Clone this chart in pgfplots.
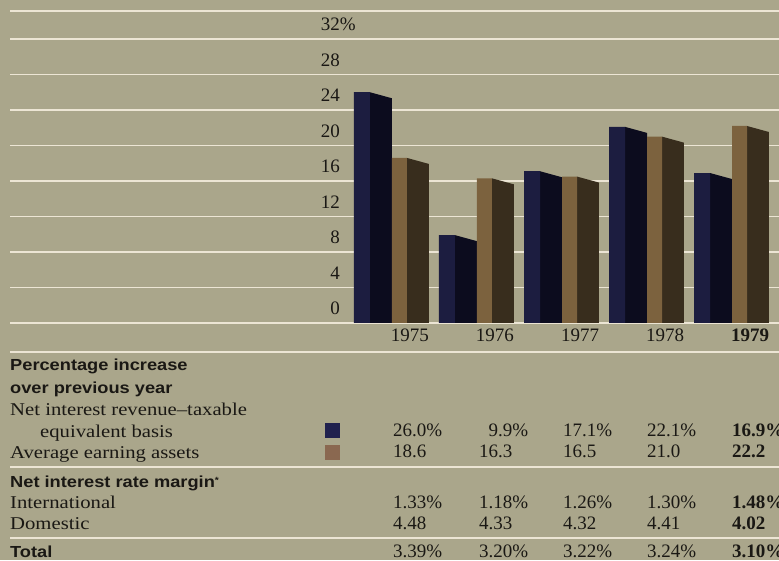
\documentclass[border=0pt]{standalone}
\usepackage{pgfplots}
\pgfplotsset{compat=1.18}
\usepackage{pgfplotstable}
\usepackage{fontspec}
\setmainfont{Liberation Serif}
\newfontfamily\lblfont{Liberation Serif}[FakeStretch=1.15, Ligatures=TeX]
\newfontfamily\hdfont{Liberation Sans}[FakeStretch=1.14]
\definecolor{bg}{RGB}{170,166,139}
\definecolor{gridcol}{RGB}{236,229,212}
\definecolor{bluefront}{RGB}{28,29,64}
\definecolor{blueside}{RGB}{12,12,30}
\definecolor{brownfront}{RGB}{124,98,62}
\definecolor{brownside}{RGB}{56,45,29}
\definecolor{legblue}{RGB}{32,33,78}
\definecolor{legbrown}{RGB}{138,104,80}
\definecolor{ink}{RGB}{26,24,20}
\newcommand{\numf}{\fontsize{19pt}{21pt}\selectfont\color{ink}}
\newcommand{\lblf}{\lblfont\fontsize{18pt}{21pt}\selectfont\color{ink}}
\newcommand{\hdf}{\hdfont\bfseries\fontsize{16pt}{21pt}\selectfont\color{ink}}

\pgfplotstableread{
yr rev assets
0 26.0 18.6
1 9.9 16.3
2 17.1 16.5
3 22.1 21.0
4 16.9 22.2
}\growth

\begin{document}
\begin{tikzpicture}[x=1pt,y=1pt]
\path[use as bounding box] (0,0) rectangle (779,560);
\clip (0,0) rectangle (779,560);
\fill[bg] (0,0) rectangle (779,560);

\begin{axis}[
  at={(10pt,237pt)}, anchor=south west,
  x=85pt, y=8.875pt,
  xmin=-4.494, xmax=4.553, ymin=0, ymax=35.2,
  axis line style={draw=none},
  major tick length=0pt,
  ytick={0,4,8,12,16,20,24,28,32,35.15},
  yticklabels={0,4,8,12,16,20,24,28,{32\rlap{\%}},{}},
  yticklabel style={anchor=base east, xshift=330pt, yshift=8pt, inner sep=0pt, font=\numf},
  ymajorgrids, grid style={gridcol, line width=1.8pt},
  xtick={0,1,2,3,4},
  xticklabels={1975,1976,1977,1978,\textbf{1979}},
  xticklabel style={anchor=base, xshift=18pt, yshift=-19pt, inner sep=0pt, font=\numf},
  clip=false,
]
% side faces (perspective)
\addplot[fill=blueside, draw=none] coordinates {(-0.259,0) (-0.259,26.0) (0,25.32) (0,0)};
\addplot[fill=blueside, draw=none] coordinates {(0.741,0) (0.741,9.9) (1,9.22) (1,0)};
\addplot[fill=blueside, draw=none] coordinates {(1.741,0) (1.741,17.1) (2,16.42) (2,0)};
\addplot[fill=blueside, draw=none] coordinates {(2.741,0) (2.741,22.1) (3,21.42) (3,0)};
\addplot[fill=blueside, draw=none] coordinates {(3.741,0) (3.741,16.9) (4,16.22) (4,0)};
\addplot[fill=brownside, draw=none] coordinates {(0.176,0) (0.176,18.6) (0.435,17.92) (0.435,0)};
\addplot[fill=brownside, draw=none] coordinates {(1.176,0) (1.176,16.3) (1.435,15.62) (1.435,0)};
\addplot[fill=brownside, draw=none] coordinates {(2.176,0) (2.176,16.5) (2.435,15.82) (2.435,0)};
\addplot[fill=brownside, draw=none] coordinates {(3.176,0) (3.176,21.0) (3.435,20.32) (3.435,0)};
\addplot[fill=brownside, draw=none] coordinates {(4.176,0) (4.176,22.2) (4.435,21.52) (4.435,0)};
% front faces
\addplot[ybar, bar width=16pt, bar shift=-30pt, fill=bluefront, draw=none] table[x=yr, y=rev] {\growth};
\addplot[ybar, bar width=15pt, bar shift=7.5pt, fill=brownfront, draw=none] table[x=yr, y=assets] {\growth};
\end{axis}

% separator rules
\draw[gridcol, line width=1.8pt] (10,208) -- (779,208);
\draw[gridcol, line width=1.8pt] (10,93) -- (779,93);
\draw[gridcol, line width=1.8pt] (10,22) -- (779,22);

% row labels
\node[anchor=base west, inner sep=0pt] at (10,189) {\hdf Percentage increase};
\node[anchor=base west, inner sep=0pt] at (10,167) {\hdf over previous year};
\node[anchor=base west, inner sep=0pt] at (10,144) {\lblf Net interest revenue–taxable};
\node[anchor=base west, inner sep=0pt] at (40,123) {\lblf equivalent basis};
\node[anchor=base west, inner sep=0pt] at (10,102) {\lblf Average earning assets};
\node[anchor=base west, inner sep=0pt] at (10,73) {\hdf Net interest rate margin\raisebox{4pt}{\fontsize{9pt}{9pt}\selectfont*}};
\node[anchor=base west, inner sep=0pt] at (10,52) {\lblf International};
\node[anchor=base west, inner sep=0pt] at (10,31) {\lblf Domestic};
\node[anchor=base west, inner sep=0pt] at (10,3) {\hdf Total};

% legend keys
\fill[legblue] (325,122) rectangle (340,137);
\fill[legbrown] (325,100) rectangle (340,115);

% table values
\foreach \xx/\a/\b/\c/\d/\e in {393/26.0\%/18.6/1.33\%/4.48/3.39\%, 479/\hphantom{1}9.9\%/16.3/1.18\%/4.33/3.20\%, 563/17.1\%/16.5/1.26\%/4.32/3.22\%, 647/22.1\%/21.0/1.30\%/4.41/3.24\%}{
  \node[anchor=base west, inner sep=0pt] at (\xx,124) {\numf \a};
  \node[anchor=base west, inner sep=0pt] at (\xx,103) {\numf \b};
  \node[anchor=base west, inner sep=0pt] at (\xx,52) {\numf \c};
  \node[anchor=base west, inner sep=0pt] at (\xx,31) {\numf \d};
  \node[anchor=base west, inner sep=0pt] at (\xx,3) {\numf \e};
}
\node[anchor=base west, inner sep=0pt] at (732,124) {\numf\bfseries 16.9\%};
\node[anchor=base west, inner sep=0pt] at (732,103) {\numf\bfseries 22.2};
\node[anchor=base west, inner sep=0pt] at (732,52) {\numf\bfseries 1.48\%};
\node[anchor=base west, inner sep=0pt] at (732,31) {\numf\bfseries 4.02};
\node[anchor=base west, inner sep=0pt] at (732,3) {\numf\bfseries 3.10\%};
\end{tikzpicture}
\end{document}
